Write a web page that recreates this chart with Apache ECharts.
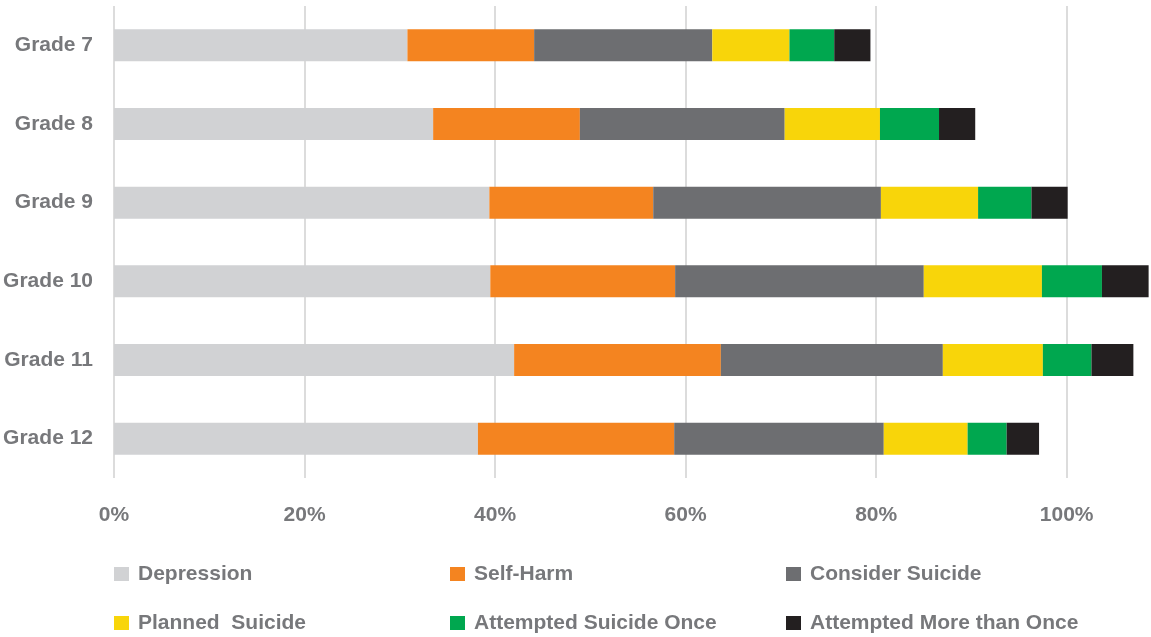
<!DOCTYPE html>
<html>
<head>
<meta charset="utf-8">
<script src="https://cdn.jsdelivr.net/npm/echarts@6/dist/echarts.min.js"></script>
<style>
  html, body { margin: 0; padding: 0; background: #fff; }
  #chart { width: 1151px; height: 637px; }
</style>
</head>
<body>
<div id="chart"></div>
<script>
const grades = ["Grade 7", "Grade 8", "Grade 9", "Grade 10", "Grade 11", "Grade 12"];
const depression = [30.8, 33.5, 39.4, 39.5, 42.0, 38.2];
const selfHarm = [13.3, 15.4, 17.2, 19.4, 21.7, 20.6];
const considerSuicide = [18.7, 21.5, 23.9, 26.1, 23.3, 22.0];
const plannedSuicide = [8.1, 10.0, 10.2, 12.4, 10.5, 8.8];
const attemptedOnce = [4.7, 6.2, 5.6, 6.3, 5.1, 4.1];
const attemptedMore = [3.8, 3.8, 3.8, 4.9, 4.4, 3.4];

const seriesNames = ["Depression", "Self-Harm", "Consider Suicide", "Planned  Suicide", "Attempted Suicide Once", "Attempted More than Once"];
const seriesData = [depression, selfHarm, considerSuicide, plannedSuicide, attemptedOnce, attemptedMore];
const colors = ["#d1d2d4", "#f48420", "#6d6e71", "#f8d50a", "#00a74f", "#231f20"];

const textColor = "#77787b";
const font = "Arial, 'Liberation Sans', Helvetica, sans-serif";

// legend positions: 3 columns x 2 rows
const legendLeft = [114, 450, 786];
const legendTop = [563, 612];

const chart = echarts.init(document.getElementById("chart"));

const legends = seriesNames.map((name, i) => ({
  data: [name],
  left: legendLeft[i % 3],
  top: legendTop[Math.floor(i / 3)],
  padding: 0,
  icon: "rect",
  itemWidth: 15,
  itemHeight: 14,
  selectedMode: false,
  textStyle: {
    color: textColor,
    fontSize: 21,
    fontWeight: "bold",
    fontFamily: font,
    lineHeight: 22,
    padding: [0, 0, 0, 4],
  },
}));

const option = {
  backgroundColor: "#fff",
  animation: false,
  color: colors,
  legend: legends,
  grid: {
    left: 114,
    right: 0,
    top: 6,
    bottom: 159,
    containLabel: false,
  },
  xAxis: {
    type: "value",
    min: 0,
    max: 108.85,
    interval: 20,
    axisLine: { show: false },
    axisTick: { show: false },
    splitLine: { showMaxLine: false, lineStyle: { color: "#dcdcdc", width: 2 } },
    axisLabel: {
      color: textColor,
      fontSize: 21,
      fontWeight: "bold",
      fontFamily: font,
      margin: 27,
      showMaxLabel: false,
      formatter: (v) => (v % 20 === 0 ? v + "%" : ""),
    },
  },
  yAxis: {
    type: "category",
    data: grades,
    inverse: true,
    axisLine: { show: false },
    axisTick: { show: false },
    axisLabel: {
      color: textColor,
      fontSize: 21,
      fontWeight: "bold",
      fontFamily: font,
      margin: 21,
    },
  },
  series: seriesNames.map((name, i) => ({
    name: name,
    type: "bar",
    stack: "total",
    barWidth: 32,
    data: seriesData[i],
    itemStyle: { color: colors[i] },
  })),
};

chart.setOption(option);
</script>
</body>
</html>
